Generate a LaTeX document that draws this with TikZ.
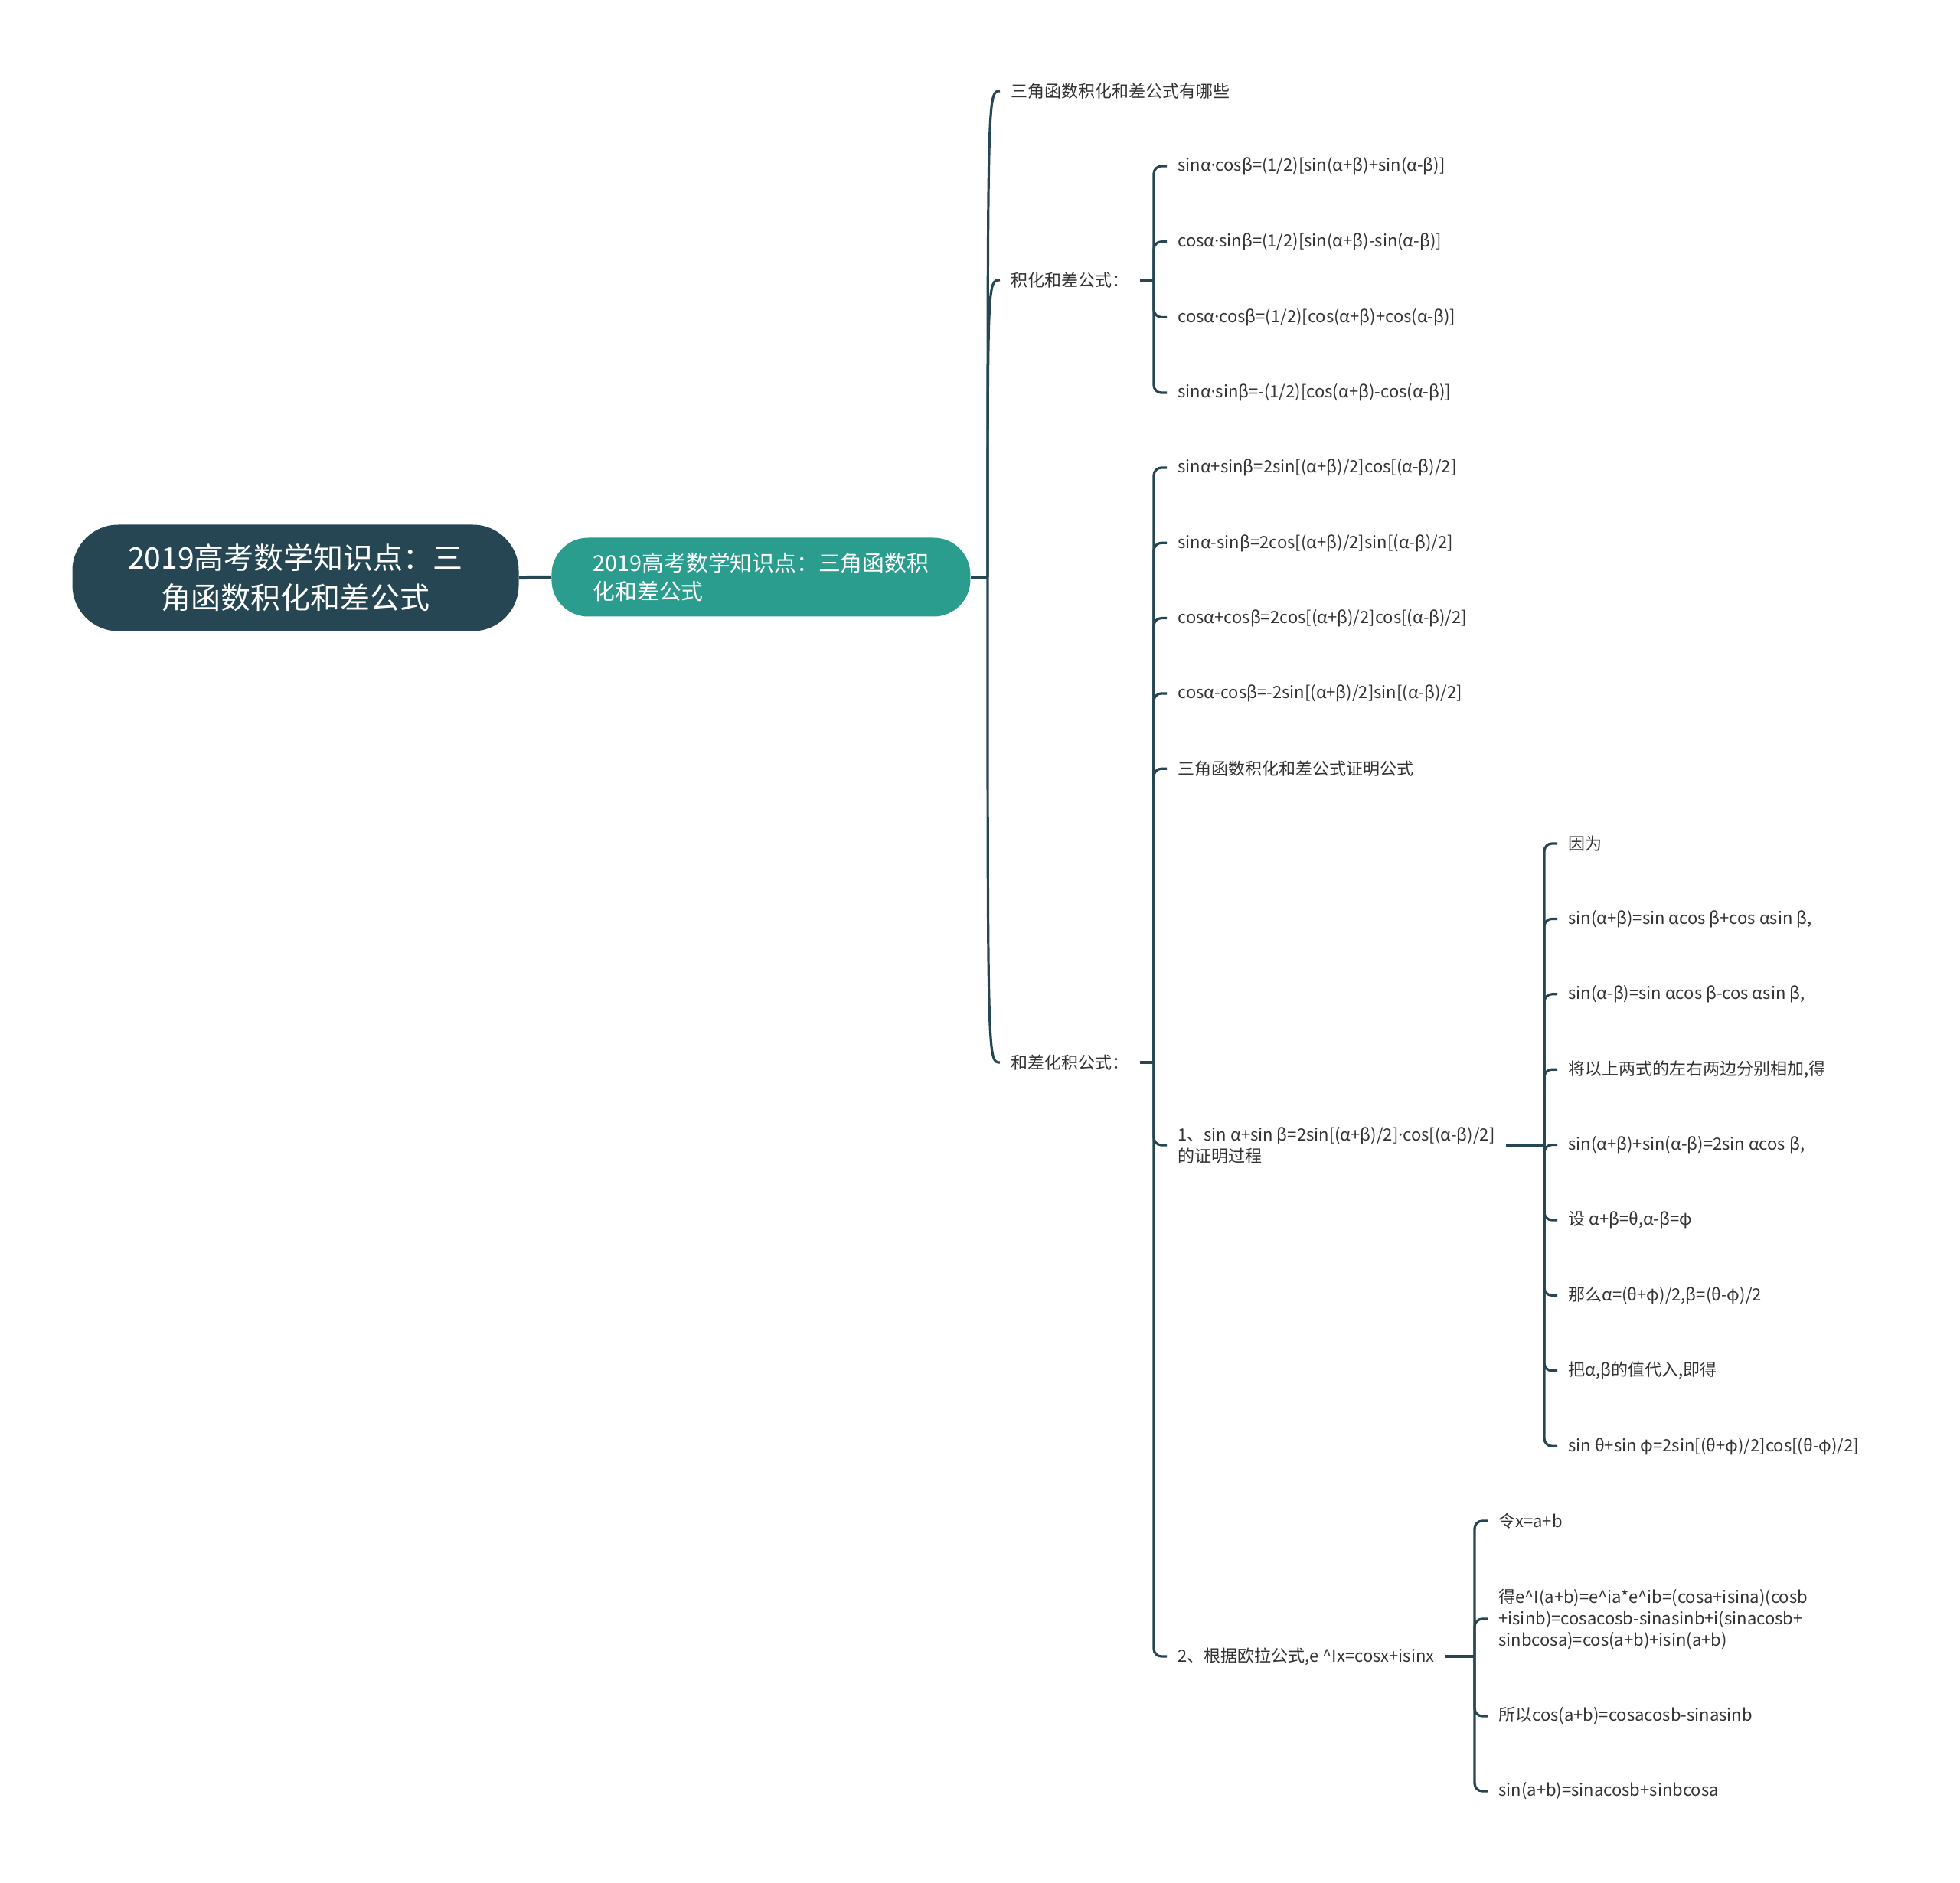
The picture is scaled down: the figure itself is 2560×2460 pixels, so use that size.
\documentclass[tikz,border=0pt]{standalone}
\usepackage{fontspec}
\setmainfont{Noto Sans CJK SC}
\newfontfamily\latinfont{Noto Sans}
\newcommand{\mdot}{{\latinfont ·}}
\definecolor{rootc}{HTML}{264653}
\definecolor{topicc}{HTML}{2A9D8F}
\definecolor{linec}{HTML}{264653}
\definecolor{textc}{HTML}{333333}
\tikzset{
  link/.style={draw=linec, line width=1.6pt},
  bracket/.style={link, rounded corners=5pt},
  leaf/.style={anchor=west, inner xsep=7pt, inner ysep=2pt, text=textc, align=left,
    font=\fontsize{11pt}{14pt}\selectfont},
}
\begin{document}
\begin{tikzpicture}[x=0.5pt,y=-0.5pt]
\useasboundingbox (0,0) rectangle (2560,2460);
% root and main topic
\node[fill=rootc, text=white, rounded corners=30pt, minimum width=291.5pt, minimum height=69.5pt,
  align=center, font=\fontsize{19.5pt}{26pt}\selectfont] (root) at (386,755)
  {2019高考数学知识点：三\\角函数积化和差公式};
\node[fill=topicc, text=white, rounded corners=24pt, minimum width=273.5pt, minimum height=51.5pt,
  align=left, anchor=west, font=\fontsize{14.4pt}{18.5pt}\selectfont] (topic) at (720,754)
  {2019高考数学知识点：三角函数积\\化和差公式};
\draw[link, line width=2.5pt] (root) -- (topic);
\coordinate (sp) at (1290,754);
\draw[link] (topic.east) -- (sp);
% first level
\node[leaf] (q1) at (1306,119) {三角函数积化和差公式有哪些};
\node[leaf] (ph) at (1306,366) {积化和差公式：};
\node[leaf] (sh) at (1306,1388) {和差化积公式：};
\foreach \n in {q1,ph,sh}
  \draw[link] (sp) .. controls (sp |- \n.west) .. (\n.west);
% product to sum
\coordinate (bph) at (1507,366);
\draw[link] (ph.east) -- (bph);
\foreach \t [count=\i] in {{sinα\mdot cosβ=(1/2)[sin(α+β)+sin(α-β)]},
    {cosα\mdot sinβ=(1/2)[sin(α+β)-sin(α-β)]},
    {cosα\mdot cosβ=(1/2)[cos(α+β)+cos(α-β)]},
    {sinα\mdot sinβ=-(1/2)[cos(α+β)-cos(α-β)]}}{
  \node[leaf] (ph\i) at (1524,{217+(\i-1)*98.7}) {\t};
  \draw[bracket] (bph) |- (ph\i.west);
}
% sum to product
\coordinate (bsh) at (1507,1388);
\draw[link] (sh.east) -- (bsh);
\foreach \t [count=\i] in {{sinα+sinβ=2sin[(α+β)/2]cos[(α-β)/2]},
    {sinα-sinβ=2cos[(α+β)/2]sin[(α-β)/2]},
    {cosα+cosβ=2cos[(α+β)/2]cos[(α-β)/2]},
    {cosα-cosβ=-2sin[(α+β)/2]sin[(α-β)/2]},
    {三角函数积化和差公式证明公式}}{
  \node[leaf] (sh\i) at (1524,{611+(\i-1)*98.3}) {\t};
  \draw[bracket] (bsh) |- (sh\i.west);
}
\node[leaf] (pa) at (1524,1496) {1、sin α+sin β=2sin[(α+β)/2]\mdot cos[(α-β)/2]\\的证明过程};
\node[leaf] (pb) at (1524,2164) {2、根据欧拉公式,e \textasciicircum Ix=cosx+isinx};
\foreach \n in {pa,pb}
  \draw[bracket] (bsh) |- (\n.west);
% proof 1
\coordinate (bpa) at (2017,1496);
\draw[link] (pa.east) -- (bpa);
\foreach \t [count=\i] in {{因为},
    {sin(α+β)=sin αcos β+cos αsin β,},
    {sin(α-β)=sin αcos β-cos αsin β,},
    {将以上两式的左右两边分别相加,得},
    {sin(α+β)+sin(α-β)=2sin αcos β,},
    {设 α+β=θ,α-β=φ},
    {那么α=(θ+φ)/2,β=(θ-φ)/2},
    {把α,β的值代入,即得},
    {sin θ+sin φ=2sin[(θ+φ)/2]cos[(θ-φ)/2]}}{
  \node[leaf] (pa\i) at (2034,{1102+(\i-1)*98.4}) {\t};
  \draw[bracket] (bpa) |- (pa\i.west);
}
% proof 2
\coordinate (bpb) at (1926,2164);
\draw[link] (pb.east) -- (bpb);
\node[leaf] (pb1) at (1943,1987) {令x=a+b};
\node[leaf] (pb2) at (1943,2115) {得e\textasciicircum I(a+b)=e\textasciicircum ia*e\textasciicircum ib=(cosa+isina)(cosb\\+isinb)=cosacosb-sinasinb+i(sinacosb+\\sinbcosa)=cos(a+b)+isin(a+b)};
\node[leaf] (pb3) at (1943,2242) {所以cos(a+b)=cosacosb-sinasinb};
\node[leaf] (pb4) at (1943,2340) {sin(a+b)=sinacosb+sinbcosa};
\foreach \n in {pb1,pb2,pb3,pb4}
  \draw[bracket] (bpb) |- (\n.west);
\end{tikzpicture}
\end{document}
